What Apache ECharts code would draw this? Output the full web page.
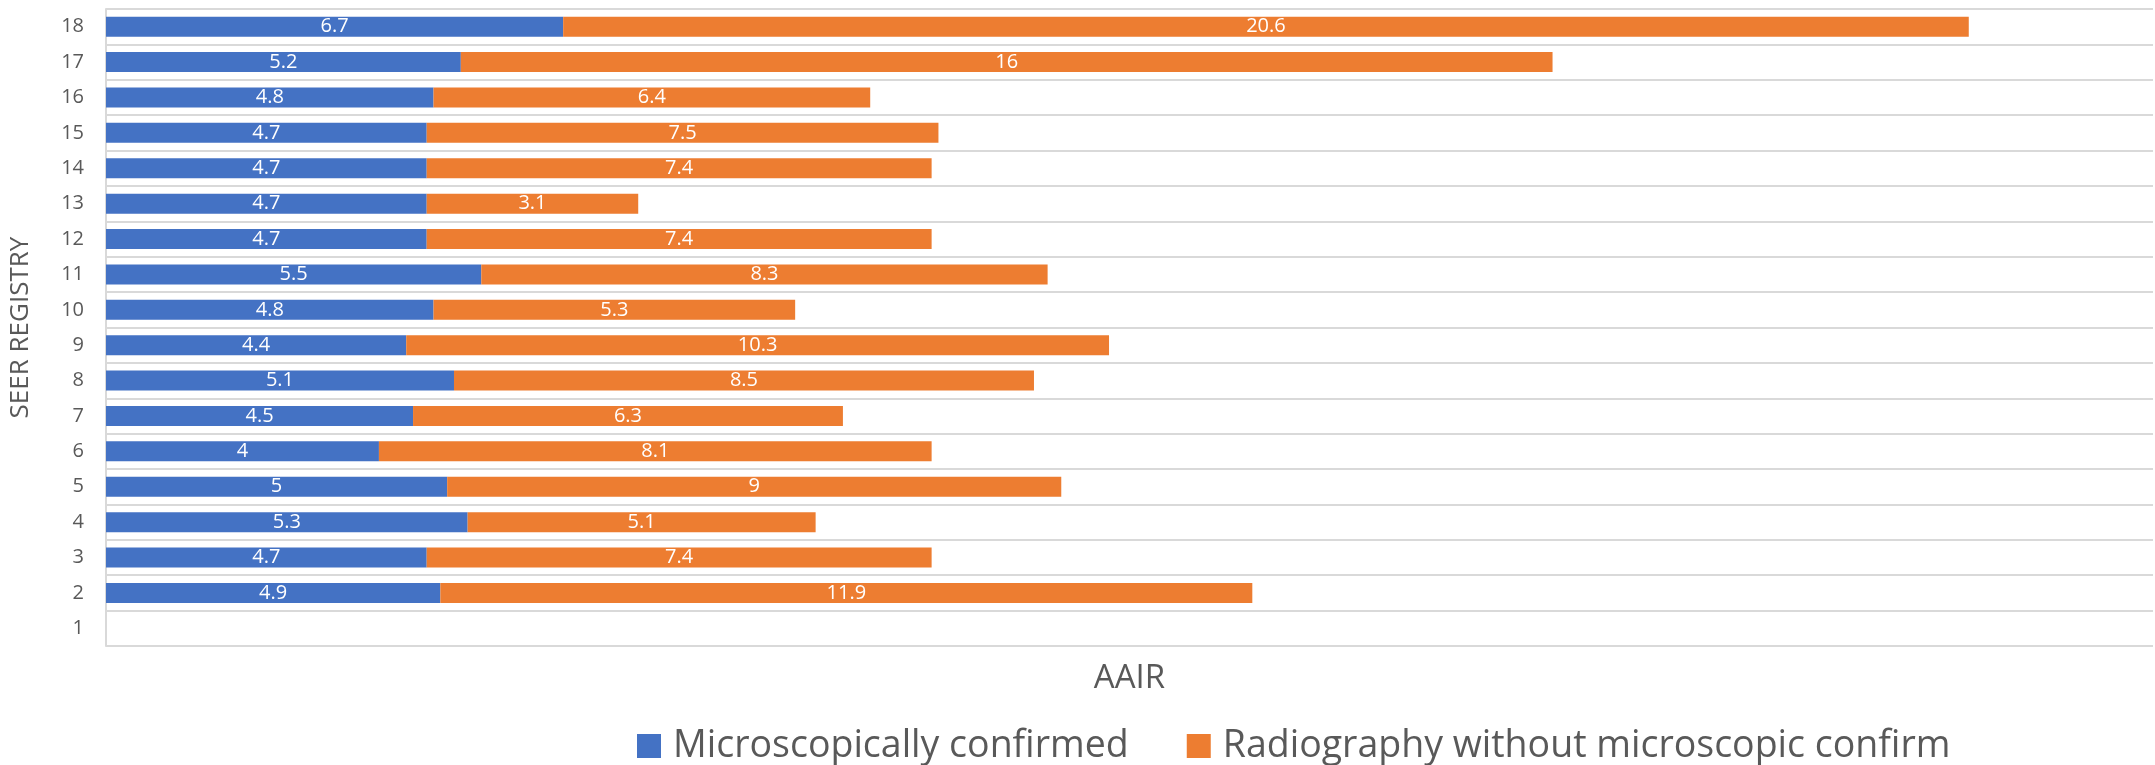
<!DOCTYPE html>
<html>
<head>
<meta charset="utf-8">
<script src="https://cdn.jsdelivr.net/npm/echarts@6/dist/echarts.min.js"></script>
<style>
  html, body { margin: 0; padding: 0; background: #ffffff; }
  #chart { width: 2155px; height: 765px; }
</style>
</head>
<body>
<div id="chart"></div>
<script>
const categories = ['1','2','3','4','5','6','7','8','9','10','11','12','13','14','15','16','17','18'];
const microscopic = [null, 4.9, 4.7, 5.3, 5, 4, 4.5, 5.1, 4.4, 4.8, 5.5, 4.7, 4.7, 4.7, 4.7, 4.8, 5.2, 6.7];
const radiography = [null, 11.9, 7.4, 5.1, 9, 8.1, 6.3, 8.5, 10.3, 5.3, 8.3, 7.4, 3.1, 7.4, 7.5, 6.4, 16, 20.6];
const seriesNames = ['Microscopically confirmed', 'Radiography without microscopic confirm'];

const FONT = '"Open Sans", "Liberation Sans", sans-serif';
const chart = echarts.init(document.getElementById('chart'), null, { renderer: 'canvas' });
const labelStyle = { show: true, position: 'inside', color: '#ffffff', fontSize: 20, fontFamily: FONT };

chart.setOption({
  animation: false,
  backgroundColor: '#ffffff',
  textStyle: { fontFamily: FONT },
  grid: { left: 101, right: 2, top: 9, bottom: 119, containLabel: false },
  legend: {
    left: 632, top: 722,
    itemWidth: 24, itemHeight: 24, itemGap: 58,
    icon: 'rect',
    textStyle: { color: '#595959', fontSize: 37.5, fontFamily: FONT, padding: [0, 0, 0, 7] },
    data: seriesNames
  },
  xAxis: {
    type: 'value', min: 0, max: 30,
    axisLabel: { show: false }, axisTick: { show: false }, axisLine: { show: false }, splitLine: { show: false },
    name: 'AAIR', nameLocation: 'middle', nameGap: 16,
    nameTextStyle: { color: '#595959', fontSize: 33, fontFamily: FONT }
  },
  yAxis: {
    type: 'category', data: categories,
    axisLine: { show: true, lineStyle: { color: '#d9d9d9', width: 2 } },
    axisTick: { show: false },
    axisLabel: { color: '#595959', fontSize: 20, margin: 22, fontFamily: FONT },
    splitLine: { show: true, lineStyle: { color: '#d9d9d9', width: 2 } },
    name: 'SEER REGISTRY', nameLocation: 'middle', nameGap: 72, nameRotate: 90,
    nameTextStyle: { color: '#595959', fontSize: 26, fontFamily: FONT }
  },
  series: [
    { name: seriesNames[0], type: 'bar', stack: 'total', barWidth: 20, data: microscopic,
      itemStyle: { color: '#4472C4' }, label: labelStyle },
    { name: seriesNames[1], type: 'bar', stack: 'total', barWidth: 20, data: radiography,
      itemStyle: { color: '#ED7D31' }, label: labelStyle }
  ]
});
</script>
</body>
</html>
